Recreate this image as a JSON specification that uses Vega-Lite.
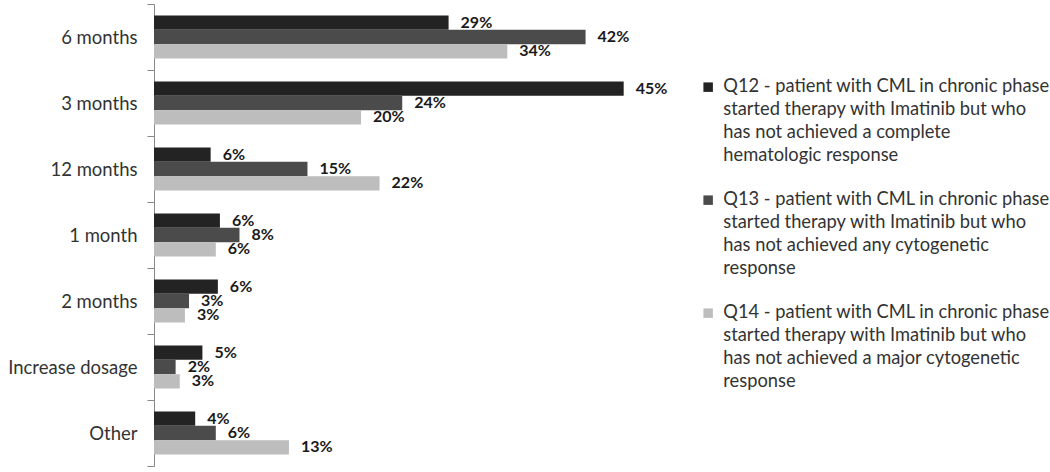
{
  "$schema": "https://vega.github.io/schema/vega-lite/v6.json",
  "width": 515,
  "height": 462,
  "autosize": {"type": "none"},
  "padding": {"top": 4, "left": 154, "right": 381, "bottom": 6},
  "background": "white",
  "config": {
    "view": {"stroke": null},
    "font": "Lato",
    "style": {"guide-label": {"lineHeight": 23}}
  },
  "data": {
    "values": [
      {"cat": "6 months", "q": "Q12", "v": 28.6, "lab": "29%"},
      {"cat": "6 months", "q": "Q13", "v": 41.9, "lab": "42%"},
      {"cat": "6 months", "q": "Q14", "v": 34.3, "lab": "34%"},
      {"cat": "3 months", "q": "Q12", "v": 45.6, "lab": "45%"},
      {"cat": "3 months", "q": "Q13", "v": 24.1, "lab": "24%"},
      {"cat": "3 months", "q": "Q14", "v": 20.1, "lab": "20%"},
      {"cat": "12 months", "q": "Q12", "v": 5.5, "lab": "6%"},
      {"cat": "12 months", "q": "Q13", "v": 14.9, "lab": "15%"},
      {"cat": "12 months", "q": "Q14", "v": 21.9, "lab": "22%"},
      {"cat": "1 month", "q": "Q12", "v": 6.4, "lab": "6%"},
      {"cat": "1 month", "q": "Q13", "v": 8.3, "lab": "8%"},
      {"cat": "1 month", "q": "Q14", "v": 6.0, "lab": "6%"},
      {"cat": "2 months", "q": "Q12", "v": 6.2, "lab": "6%"},
      {"cat": "2 months", "q": "Q13", "v": 3.4, "lab": "3%"},
      {"cat": "2 months", "q": "Q14", "v": 3.0, "lab": "3%"},
      {"cat": "Increase dosage", "q": "Q12", "v": 4.7, "lab": "5%"},
      {"cat": "Increase dosage", "q": "Q13", "v": 2.1, "lab": "2%"},
      {"cat": "Increase dosage", "q": "Q14", "v": 2.5, "lab": "3%"},
      {"cat": "Other", "q": "Q12", "v": 4.0, "lab": "4%"},
      {"cat": "Other", "q": "Q13", "v": 6.0, "lab": "6%"},
      {"cat": "Other", "q": "Q14", "v": 13.1, "lab": "13%"}
    ]
  },
  "encoding": {
    "y": {
      "field": "cat",
      "type": "nominal",
      "sort": ["6 months", "3 months", "12 months", "1 month", "2 months", "Increase dosage", "Other"],
      "scale": {"paddingInner": 0, "paddingOuter": 0},
      "axis": {
        "title": null,
        "tickBand": "extent",
        "tickSize": 7,
        "tickColor": "#888888",
        "domainColor": "#888888",
        "labelFontSize": 18.5,
        "labelColor": "#333333",
        "labelPadding": 10
      }
    },
    "yOffset": {"field": "q", "type": "nominal", "scale": {"paddingInner": 0, "paddingOuter": 0.8}},
    "x": {
      "field": "v",
      "type": "quantitative",
      "scale": {"domain": [0, 50], "nice": false},
      "axis": null
    }
  },
  "layer": [
    {
      "mark": {"type": "bar", "stroke": null},
      "encoding": {
        "color": {
          "field": "q",
          "type": "nominal",
          "scale": {"domain": ["Q12", "Q13", "Q14"], "range": ["#232323", "#4b4b4b", "#bdbdbd"]},
          "legend": {
            "title": null,
            "orient": "none",
            "legendX": 545,
            "legendY": 74,
            "symbolType": "square",
            "symbolSize": 90,
            "symbolStrokeWidth": 0,
            "labelFontSize": 18.3,
            "labelColor": "#333333",
            "labelLimit": 500,
            "labelOffset": 6,
            "rowPadding": 25,
            "labelExpr": "datum.label == 'Q12' ? ['Q12 - patient with CML in chronic phase', 'started therapy with Imatinib but who', 'has not achieved a complete', 'hematologic response'] : datum.label == 'Q13' ? ['Q13 - patient with CML in chronic phase', 'started therapy with Imatinib but who', 'has not achieved any cytogenetic', 'response'] : ['Q14 - patient with CML in chronic phase', 'started therapy with Imatinib but who', 'has not achieved a major cytogenetic', 'response']"
          }
        }
      }
    },
    {
      "mark": {"type": "text", "align": "left", "baseline": "middle", "dx": 12, "fontWeight": "bold", "fontSize": 16, "color": "#1a1a1a"},
      "encoding": {"text": {"field": "lab"}}
    }
  ]
}
